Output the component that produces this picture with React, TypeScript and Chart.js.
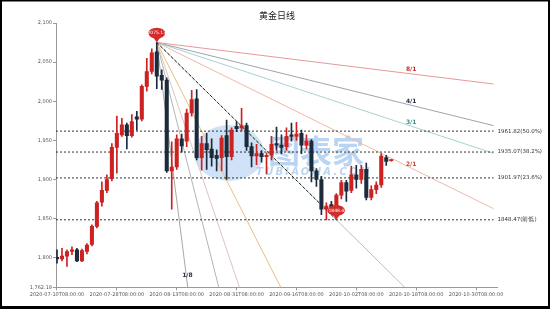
import React, { useEffect, useRef } from "react";
import { Chart, registerables } from "chart.js";
Chart.register(...registerables);

const TITLE = "黄金日线";

const OPEN = [1800.5, 1798.5, 1802, 1808, 1810, 1796, 1808, 1817, 1840, 1871, 1886, 1901, 1941, 1957, 1970, 1956, 1980, 1977, 2019, 2038, 2063, 2033, 2027, 1911, 1916, 1952, 1949, 1985, 2003, 1928, 1946, 1939, 1931, 1928, 1956, 1929, 1968, 1966, 1969, 1942, 1930, 1933, 1929, 1931, 1946, 1944, 1942, 1957, 1955, 1959, 1944, 1949, 1911, 1900, 1862, 1868, 1865, 1880, 1896, 1886, 1906, 1900, 1913, 1877, 1887, 1893, 1928, 1924];
const HIGH = [1810, 1812, 1810, 1814, 1812, 1811, 1818, 1842, 1872, 1897, 1906, 1946, 1981, 1978, 1972, 1983, 1987, 2021, 2055, 2067, 2075.13, 2040, 2030, 1948, 1957, 1958, 1990, 2014, 2015, 1955, 1959, 1952, 1938, 1956, 1976, 1966, 1974, 1991, 1972, 1947, 1945, 1937, 1934, 1955, 1967, 1957, 1966, 1972, 1973, 1963, 1957, 1951, 1914, 1904, 1870, 1872, 1882, 1899, 1899, 1917, 1918, 1918, 1921, 1892, 1897, 1933, 1931, 1925.5];
const LOW = [1793, 1796, 1789, 1804, 1795, 1795, 1805, 1815, 1838, 1866, 1883, 1898, 1908, 1955, 1939, 1954, 1963, 1975, 2013, 2035, 2016, 2015, 1909, 1862, 1913, 1935, 1942, 1981, 1925, 1912, 1913, 1917, 1911, 1911, 1900, 1925, 1961, 1962, 1937, 1916, 1919, 1922, 1907, 1925, 1937, 1933, 1937, 1949, 1950, 1933, 1939, 1897, 1891, 1855, 1848.47, 1858, 1858, 1875, 1872, 1883, 1889, 1895, 1874, 1874, 1882, 1890, 1918, 1923.5];
const CLOSE = [1798.5, 1802, 1808, 1810, 1796, 1809, 1816, 1840, 1870, 1886, 1900, 1941, 1959, 1970, 1956, 1974, 1977, 2019, 2038, 2062, 2032, 2027, 1911, 1916, 1952, 1943, 1985, 2002, 1928, 1946, 1938, 1928, 1927, 1953, 1929, 1963, 1965, 1969, 1942, 1930, 1933, 1929, 1931, 1945, 1944, 1941, 1955, 1955, 1958, 1944, 1949, 1911, 1900, 1862, 1866, 1864, 1880, 1896, 1885, 1906, 1900, 1913, 1877, 1887, 1893, 1930, 1923, 1925];

const X_TICK_IDX = [0, 12, 24, 36, 48, 60, 72, 84];
const X_TICK_LABELS = [
  "2020-07-10T08:00:00", "2020-07-28T08:00:00", "2020-08-13T08:00:00", "2020-08-31T08:00:00",
  "2020-09-16T08:00:00", "2020-10-02T08:00:00", "2020-10-18T08:00:00", "2020-10-30T08:00:00",
];
const Y_TICKS = [1762.19, 1800, 1850, 1900, 1950, 2000, 2050, 2100];

const PEAK_IDX = 20;
const PEAK_PRICE = 2075.13;
const PEAK_TEXT = "2075.13";
const LOW_IDX = 56;
const LOW_PRICE = 1848.47;
const LOW_TEXT = "1848.4";

const FAN_NAMES = ["8/1", "4/1", "3/1", "2/1", "1/1", "1/2", "1/3", "1/4", "1/8"];
const FAN_TIME = [8, 4, 3, 2, 1, 1, 1, 1, 1];
const FAN_PRICE = [1, 1, 1, 1, 1, 2, 3, 4, 8];
const FAN_COLORS = ["#e89a9a", "#a0a4a8", "#a6d4d4", "#f0b8a8", "#a8cbbb", "#e8c080", "#dcc4c4", "#b4b4b4", "#a8a8a8"];
const FAN_LABEL_SHOW = [true, true, true, true, false, false, false, false, true];
const FAN_LABEL_IDX = [71, 71, 71, 71, 0, 0, 0, 0, 25.95];
const FAN_LABEL_COLORS = ["#c83030", "#1e2a3a", "#3a9090", "#c84030", "", "", "", "", "#2a3444"];

const FIB_VALUES = [1961.82, 1935.07, 1901.97, 1848.47];
const FIB_LABELS = ["1961.82(50.0%)", "1935.07(38.2%)", "1901.97(23.6%)", "1848.47(前低)"];

const X_MIN = -0.2;
const X_MAX = 88.2;
const LINE_END = 87.5;

export default function App() {
  const ref = useRef<HTMLCanvasElement>(null);
  useEffect(() => {
    document.body.style.margin = "0";
    const canvas = ref.current!;
    const RED = "#cc2222";
    const DARK = "#1c2b3b";
    const up = (i: number) => CLOSE[i] >= OPEN[i];
    const unit = (PEAK_PRICE - LOW_PRICE) / (LOW_IDX - PEAK_IDX);
    const fanY = (k: number, x: number) => PEAK_PRICE - (unit * FAN_PRICE[k]) / FAN_TIME[k] * (x - PEAK_IDX);

    const datasets: any[] = [];
    datasets.push({
      type: "bar",
      data: OPEN.map((_, i) => ({ x: i, y: [LOW[i], HIGH[i]] })),
      backgroundColor: OPEN.map((_, i) => (up(i) ? RED : DARK)),
      barThickness: 1,
      grouped: false,
      order: 1,
    });
    datasets.push({
      type: "bar",
      data: OPEN.map((_, i) => ({ x: i, y: [OPEN[i], CLOSE[i]] })),
      backgroundColor: OPEN.map((_, i) => (up(i) ? RED : DARK)),
      barThickness: 3.4,
      minBarLength: 1,
      grouped: false,
      order: 0,
    });
    FAN_NAMES.forEach((_, k) => {
      datasets.push({
        type: "line",
        data: [
          { x: PEAK_IDX, y: PEAK_PRICE },
          { x: LINE_END, y: fanY(k, LINE_END) },
        ],
        borderColor: FAN_COLORS[k],
        borderWidth: 1,
        pointRadius: 0,
        order: 6,
      });
    });
    datasets.push({
      type: "line",
      data: [
        { x: PEAK_IDX, y: PEAK_PRICE },
        { x: LOW_IDX, y: LOW_PRICE },
      ],
      borderColor: "#222",
      borderDash: [3, 2],
      borderWidth: 1,
      pointRadius: 0,
      order: 5,
    });
    FIB_VALUES.forEach((v) => {
      datasets.push({
        type: "line",
        data: [
          { x: X_MIN, y: v },
          { x: LINE_END, y: v },
        ],
        borderColor: "#333",
        borderDash: [2, 2],
        borderWidth: 1,
        pointRadius: 0,
        order: 4,
      });
    });

    const deco = {
      id: "deco",
      beforeDraw(chart: any) {
        const c = chart.ctx;
        c.save();
        c.fillStyle = "#fff";
        c.fillRect(0, 0, chart.width, chart.height);
        c.restore();
      },
      beforeDatasetsDraw(chart: any) {
        const c = chart.ctx;
        c.save();
        c.fillStyle = "rgba(140,185,235,0.42)";
        c.beginPath();
        c.ellipse(229, 153, 35, 28, 0, 0, Math.PI * 2);
        c.fill();
        c.fillStyle = "rgba(140,185,235,0.6)";
        c.font = "bold 32px 'Noto Sans CJK SC'";
        c.textAlign = "center";
        c.textBaseline = "middle";
        c.fillText("图表家", 316, 151);
        c.font = "italic bold 10px 'DejaVu Sans'";
        (c as any).letterSpacing = "2.2px";
        c.fillText("TUBIAOJIA.COM", 314, 172);
        c.restore();
      },
      afterDatasetsDraw(chart: any) {
        const c = chart.ctx;
        const xs = chart.scales.x;
        const ys = chart.scales.y;
        const area = chart.chartArea;
        c.save();
        c.font = "bold 6px 'DejaVu Sans'";
        c.textAlign = "center";
        c.textBaseline = "middle";
        FAN_NAMES.forEach((nm, k) => {
          if (!FAN_LABEL_SHOW[k]) return;
          const lx = FAN_LABEL_IDX[k];
          const px = xs.getPixelForValue(lx);
          const py = ys.getPixelForValue(fanY(k, lx));
          c.fillStyle = FAN_LABEL_COLORS[k];
          c.fillText(nm, px + (k === 8 ? 1 : 0), py - (k === 8 ? 1.5 : 4));
        });
        c.font = "5.5px 'DejaVu Sans'";
        c.textAlign = "left";
        c.fillStyle = "#333";
        FIB_VALUES.forEach((v, k) => {
          c.fillText(FIB_LABELS[k], area.right + 0.5, ys.getPixelForValue(v));
        });
        const pin = (i: number, p: number, txt: string) => {
          const px = xs.getPixelForValue(i);
          const py = ys.getPixelForValue(p);
          c.fillStyle = "#d42a2a";
          c.beginPath();
          c.moveTo(px, py);
          c.lineTo(px - 4.5, py - 6.5);
          c.lineTo(px + 4.5, py - 6.5);
          c.closePath();
          c.fill();
          c.beginPath();
          c.ellipse(px, py - 9.4, 8.5, 5.4, 0, 0, Math.PI * 2);
          c.fill();
          c.fillStyle = "#fff";
          c.font = "4.5px 'DejaVu Sans'";
          c.textAlign = "center";
          c.fillText(txt, px, py - 9.4);
        };
        pin(PEAK_IDX, PEAK_PRICE, PEAK_TEXT);
        pin(LOW_IDX, LOW_PRICE, LOW_TEXT);
        c.restore();
      },
      afterDraw(chart: any) {
        const c = chart.ctx;
        c.save();
        c.fillStyle = "#222";
        c.font = "9px 'Noto Sans CJK SC'";
        c.textAlign = "center";
        c.textBaseline = "middle";
        c.fillText(TITLE, 277, 16);
        c.fillStyle = "#000";
        c.fillRect(0, 0, 550, 1.5);
        c.fillRect(0, 0, 2, 309);
        c.fillRect(548, 0, 2, 309);
        c.fillRect(0, 306, 550, 3);
        c.restore();
      },
    };

    const chart = new Chart(canvas, {
      type: "bar",
      data: { datasets },
      options: {
        responsive: false,
        animation: false,
        devicePixelRatio: 1,
        layout: { padding: { left: 0, right: 53, top: 23, bottom: 0 } },
        plugins: { legend: { display: false }, tooltip: { enabled: false }, title: { display: false } },
        scales: {
          x: {
            type: "linear",
            offset: false,
            min: X_MIN,
            max: X_MAX,
            grid: { display: true, drawOnChartArea: false, drawTicks: true, tickLength: 3, color: "#999", offset: false },
            border: { color: "#999" },
            ticks: {
              autoSkip: false,
              maxRotation: 0,
              minRotation: 0,
              padding: 1,
              color: "#555",
              font: { size: 5, family: "'DejaVu Sans'" },
              callback: (v: any) => {
                const k = X_TICK_IDX.indexOf(Number(v));
                return k >= 0 ? X_TICK_LABELS[k] : "";
              },
            },
            afterBuildTicks: (s: any) => {
              s.ticks = X_TICK_IDX.map((v) => ({ value: v }));
            },
            afterFit: (s: any) => {
              s.height = 21.7;
            },
          },
          y: {
            type: "linear",
            min: Y_TICKS[0],
            max: Y_TICKS[Y_TICKS.length - 1],
            grid: { display: true, drawOnChartArea: false, drawTicks: true, tickLength: 3, color: "#999" },
            border: { color: "#999" },
            ticks: {
              padding: 1,
              color: "#555",
              font: { size: 5, family: "'DejaVu Sans'" },
              callback: (v: any) => Number(v).toLocaleString("en-US", { maximumFractionDigits: 2 }),
            },
            afterBuildTicks: (s: any) => {
              s.ticks = Y_TICKS.map((v) => ({ value: v }));
            },
            afterFit: (s: any) => {
              s.width = 56;
            },
          },
        },
      } as any,
      plugins: [deco],
    });
    return () => chart.destroy();
  }, []);
  return <canvas ref={ref} width={550} height={309} style={{ display: "block", width: 550, height: 309 }} />;
}
